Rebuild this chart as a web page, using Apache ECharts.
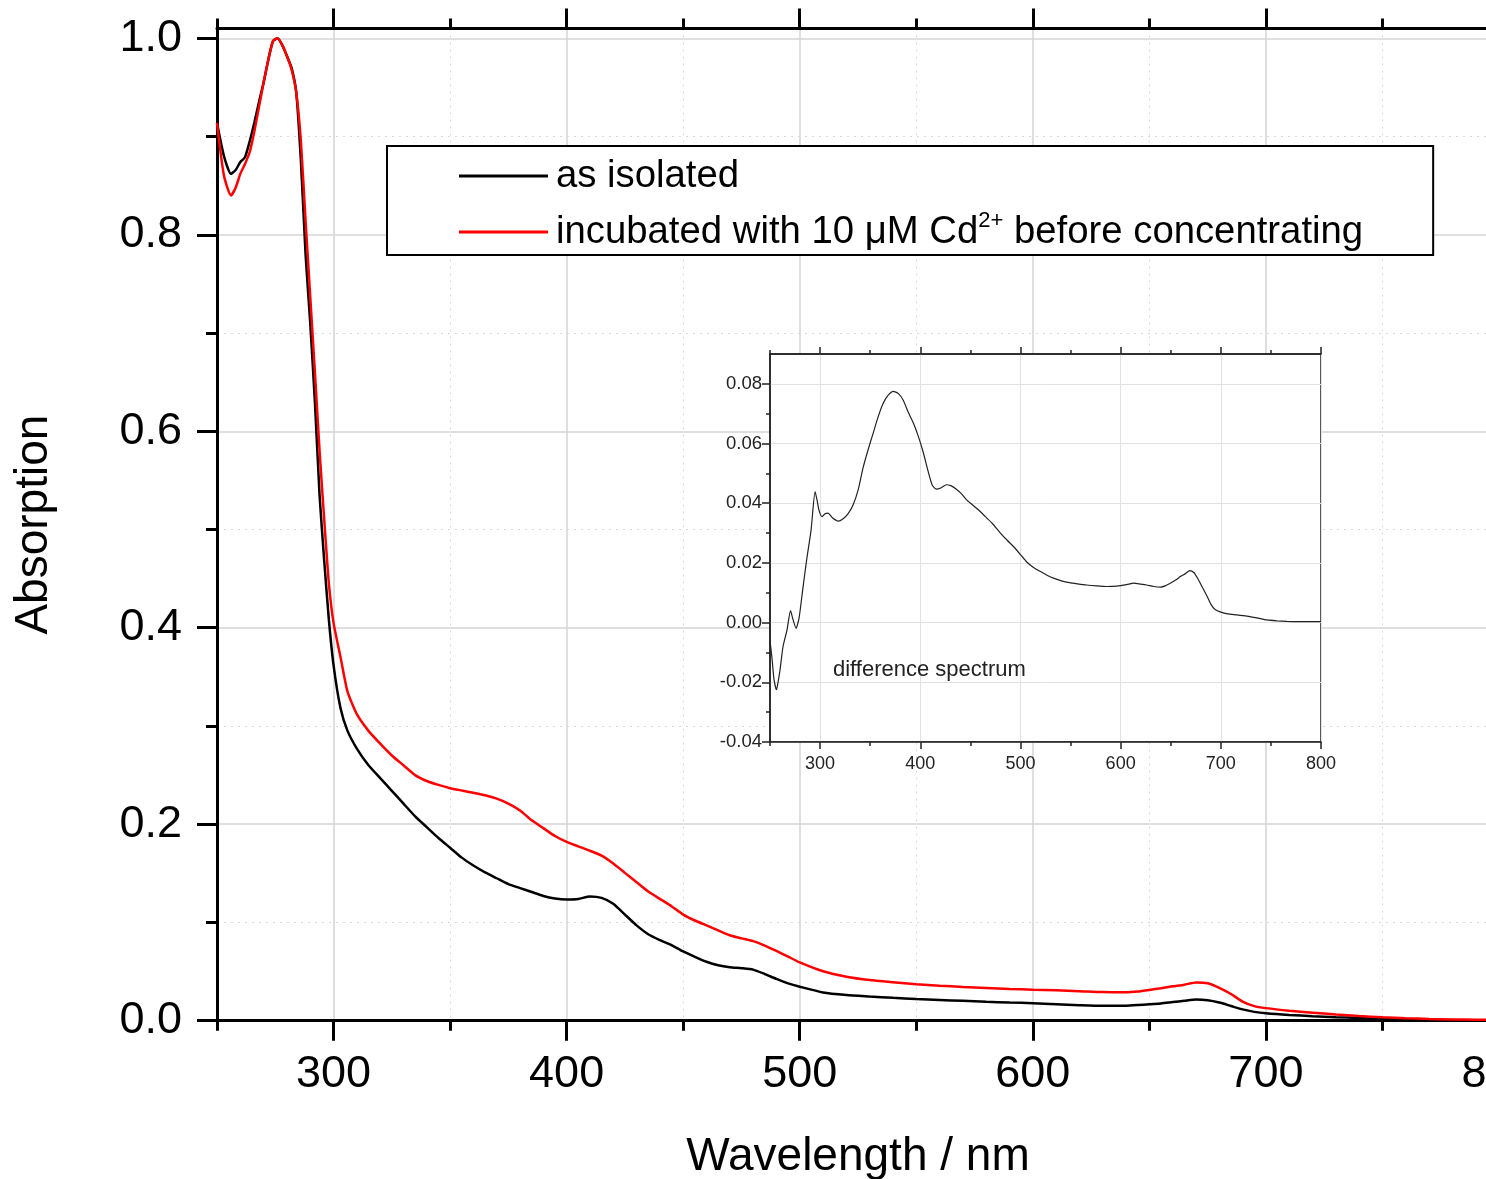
<!DOCTYPE html>
<html>
<head>
<meta charset="utf-8">
<script src="https://cdn.jsdelivr.net/npm/echarts@6/dist/echarts.min.js"></script>
<style>html,body{margin:0;padding:0;background:#fff;}#chart{width:1486px;height:1179px;}</style>
</head>
<body>
<div id="chart"></div>
<script>
// ---------------- data ----------------
const wavelength = [250,253,256,258,260,262,264,266,268,270,272,274,276,278,280,282,284,286,288,290,292,294,296,298,300,303,306,310,315,320,325,330,335,340,345,350,355,360,365,370,375,380,385,390,395,400,405,410,415,420,425,430,435,440,445,450,455,460,465,470,475,480,485,490,495,500,510,520,530,540,550,560,570,580,590,600,610,620,630,640,645,650,655,660,665,670,675,680,685,690,695,700,710,720,730,740,750,760,770,780,790,800];
const asIsolated = [0.914,0.88,0.862,0.866,0.874,0.879,0.895,0.914,0.935,0.955,0.978,0.997,1.0,0.993,0.982,0.97,0.945,0.875,0.78,0.71,0.63,0.535,0.468,0.408,0.362,0.318,0.295,0.277,0.26,0.247,0.234,0.221,0.208,0.197,0.186,0.176,0.166,0.158,0.151,0.145,0.139,0.135,0.131,0.127,0.1245,0.1235,0.124,0.1265,0.125,0.119,0.108,0.097,0.088,0.082,0.077,0.0705,0.065,0.06,0.0565,0.0545,0.0535,0.052,0.0475,0.0425,0.038,0.0346,0.0288,0.0262,0.0247,0.0233,0.022,0.0211,0.0202,0.0193,0.0185,0.0178,0.0168,0.0158,0.0151,0.0152,0.0159,0.0168,0.0176,0.019,0.0203,0.0215,0.0208,0.0185,0.015,0.0115,0.009,0.0075,0.0058,0.0046,0.0036,0.0027,0.0018,0.0012,0.0008,0.0005,0.0003,0.0002];
const cdIncubated = [0.914,0.86,0.84,0.848,0.862,0.872,0.884,0.905,0.93,0.955,0.978,0.997,1.0,0.993,0.982,0.968,0.945,0.895,0.814,0.737,0.66,0.58,0.51,0.445,0.405,0.37,0.335,0.312,0.295,0.282,0.27,0.26,0.25,0.244,0.24,0.2367,0.2343,0.232,0.2295,0.226,0.221,0.214,0.204,0.196,0.188,0.182,0.1775,0.173,0.168,0.16,0.1505,0.141,0.1315,0.124,0.1165,0.108,0.102,0.097,0.092,0.087,0.0838,0.081,0.0765,0.071,0.0652,0.0593,0.0503,0.0448,0.0414,0.0392,0.0372,0.0357,0.0344,0.0333,0.0323,0.0316,0.031,0.0301,0.0291,0.0289,0.0297,0.0313,0.0331,0.035,0.0366,0.039,0.0382,0.0335,0.0272,0.0195,0.0148,0.0128,0.0102,0.0082,0.0063,0.0048,0.0035,0.0026,0.0018,0.0013,0.001,0.0008];
const diffWavelength = [250,252,254,256.5,258,260,263,267,270.5,273,276,279,283,287,291,295,297,299,302,305,308,312,318,323,328,333,338,343,348,353,358,363,368,373,378,383,388,393,398,403,408,412,416,421,426,431,436,441,446,452,458,465,472,480,487,493,500,506,513,520,527,533,541,549,557,566,576,586,596,606,613,620,626,633,640,645,650,655,660,665,669,673,677,681,686,690,694,700,707,716,726,736,746,756,766,776,788,800];
const diffValues = [-0.006,-0.012,-0.019,-0.0225,-0.02,-0.0159,-0.008,-0.0024,0.004,0.001,-0.0019,0.0015,0.012,0.022,0.031,0.0439,0.041,0.0375,0.0355,0.0365,0.0367,0.0352,0.034,0.0348,0.0365,0.0395,0.0445,0.052,0.058,0.0635,0.069,0.0735,0.0762,0.0775,0.0768,0.0745,0.0705,0.067,0.0625,0.057,0.0505,0.046,0.0447,0.0452,0.0462,0.0458,0.0447,0.0432,0.0412,0.0395,0.0378,0.0355,0.0332,0.03,0.0275,0.0255,0.0228,0.0204,0.0185,0.0171,0.0158,0.0149,0.014,0.0134,0.013,0.0126,0.0123,0.0121,0.0122,0.0127,0.0132,0.0129,0.0126,0.0121,0.0119,0.0124,0.0133,0.0143,0.0155,0.0165,0.0174,0.0168,0.0148,0.0122,0.009,0.0062,0.0045,0.0035,0.0029,0.0026,0.0022,0.0016,0.0009,0.0006,0.0004,0.0003,0.0003,0.0003];

const seriesNames = ['as isolated', 'incubated with 10 μM Cd2+ before concentrating'];
const mainXMajor = [300,400,500,600,700,800];
const mainXMinor = [250,350,450,550,650,750];
const mainYMajor = [0,0.2,0.4,0.6,0.8,1.0];
const mainYMinor = [0.1,0.3,0.5,0.7,0.9];
const insetXMajor = [300,400,500,600,700,800];
const insetXMinor = [250,350,450,550,650,750];
const insetYMajor = [-0.04,-0.02,0,0.02,0.04,0.06,0.08];
const insetYMinor = [-0.03,-0.01,0.01,0.03,0.05,0.07];

// ---------------- chart ----------------
const FONT = '"Liberation Sans", Arial, Helvetica, sans-serif';

function valAxis(o) {
  const ax = {
    type: 'value', gridIndex: o.grid, position: o.pos,
    min: o.min, max: o.max, interval: o.interval, z: o.z || 0,
    axisLine: { show: o.line !== false, onZero: false, lineStyle: { color: o.color, width: o.lineW } },
    axisTick: { show: true, inside: false, customValues: o.ticks, length: o.tickLen,
                lineStyle: { color: o.color, width: o.tickW } },
    axisLabel: o.labels ? { show: true, customValues: o.labels, formatter: o.fmt, fontSize: o.fs,
                color: o.color, fontFamily: FONT, margin: o.margin, hideOverlap: false } : { show: false },
    splitLine: o.split ? { show: true, lineStyle: o.split } : { show: false },
    minorTick: { show: false }, minorSplitLine: { show: false }
  };
  if (o.name) {
    ax.name = o.name; ax.nameLocation = 'middle'; ax.nameGap = o.nameGap;
    if (o.nameRotate != null) ax.nameRotate = o.nameRotate;
    ax.nameTextStyle = { fontSize: o.nameSize, color: '#000', fontFamily: FONT };
  }
  return ax;
}

const MX = { min: 250, max: 800, interval: 50 };
const MY = { min: 0, max: 1.01, interval: 0.1 };
const IX = { min: 250, max: 800, interval: 50 };
const IY = { min: -0.04, max: 0.09, interval: 0.01 };
const mainMajorGrid = { color: '#d4d4d4', width: 1.5, type: 'solid' };
const mainMinorGrid = { color: '#d8d8d8', width: 1, type: [2, 5] };
const insetMajorGrid = { color: '#e2e2e2', width: 1, type: 'solid' };

const xAxes = [
  valAxis(Object.assign({ grid: 0, pos: 'bottom', color: '#000', lineW: 3, ticks: mainXMajor, tickLen: 20, tickW: 3,
    labels: mainXMajor, fmt: v => String(Math.round(v)), fs: 45, margin: 31, split: mainMajorGrid,
    name: 'Wavelength / nm', nameGap: 114, nameSize: 46 }, MX)),
  valAxis(Object.assign({ grid: 0, pos: 'bottom', color: '#000', line: false, lineW: 3, ticks: mainXMinor, tickLen: 10, tickW: 3,
    split: mainMinorGrid }, MX)),
  valAxis(Object.assign({ grid: 0, pos: 'top', color: '#000', lineW: 3, ticks: mainXMajor, tickLen: 20, tickW: 3 }, MX)),
  valAxis(Object.assign({ grid: 0, pos: 'top', color: '#000', line: false, lineW: 3, ticks: mainXMinor, tickLen: 10, tickW: 3 }, MX)),
  valAxis(Object.assign({ grid: 1, pos: 'bottom', color: '#222', lineW: 1.5, ticks: insetXMajor, tickLen: 7, tickW: 1.5, z: 6,
    labels: insetXMajor, fmt: v => String(Math.round(v)), fs: 18, margin: 13, split: insetMajorGrid }, IX)),
  valAxis(Object.assign({ grid: 1, pos: 'bottom', color: '#222', line: false, lineW: 1.5, ticks: insetXMinor, tickLen: 4, tickW: 1.5, z: 6 }, IX)),
  valAxis(Object.assign({ grid: 1, pos: 'top', color: '#222', lineW: 1.5, ticks: insetXMajor, tickLen: 7, tickW: 1.5, z: 6 }, IX)),
  valAxis(Object.assign({ grid: 1, pos: 'top', color: '#222', line: false, lineW: 1.5, ticks: insetXMinor, tickLen: 4, tickW: 1.5, z: 6 }, IX))
];
const yAxes = [
  valAxis(Object.assign({ grid: 0, pos: 'left', color: '#000', lineW: 3, ticks: mainYMajor, tickLen: 20, tickW: 3,
    labels: mainYMajor, fmt: v => v.toFixed(1), fs: 45, margin: 35, split: mainMajorGrid,
    name: 'Absorption', nameGap: 160, nameRotate: 90, nameSize: 46 }, MY)),
  valAxis(Object.assign({ grid: 0, pos: 'left', color: '#000', line: false, lineW: 3, ticks: mainYMinor, tickLen: 11, tickW: 3,
    split: mainMinorGrid }, MY)),
  valAxis(Object.assign({ grid: 1, pos: 'left', color: '#222', lineW: 1.5, ticks: insetYMajor, tickLen: 8, tickW: 1.5, z: 6,
    labels: insetYMajor, fmt: v => v.toFixed(2), fs: 18.5, margin: 8, split: insetMajorGrid }, IY)),
  valAxis(Object.assign({ grid: 1, pos: 'left', color: '#222', line: false, lineW: 1.5, ticks: insetYMinor, tickLen: 4, tickW: 1.5, z: 6 }, IY))
];

function pairs(xs, ys) { return xs.map((x, i) => [x, ys[i]]); }

const chart = echarts.init(document.getElementById('chart'), null, { renderer: 'canvas' });
chart.setOption({
  animation: false,
  backgroundColor: '#fff',
  textStyle: { fontFamily: FONT },
  grid: [
    { left: 217, top: 28.5, width: 1282, height: 992.2, containLabel: false, outerBoundsMode: 'none' },
    { left: 770, top: 354, width: 551, height: 388, show: true, backgroundColor: '#fff',
      borderColor: '#222', borderWidth: 1.5, z: 5, containLabel: false, outerBoundsMode: 'none' }
  ],
  title: {
    text: 'difference spectrum', left: 833, top: 659, padding: 0, z: 8,
    textStyle: { fontSize: 22, fontWeight: 'normal', color: '#222', fontFamily: FONT }
  },
  legend: {
    orient: 'vertical', left: 387, top: 146, z: 8,
    padding: [8, 70, 1, 72], itemGap: 12, itemWidth: 89, itemHeight: 3, icon: 'rect',
    borderColor: '#000', borderWidth: 2, backgroundColor: '#fff', selectedMode: false,
    data: seriesNames,
    formatter: function (name) {
      if (name === seriesNames[1]) return '{t|incubated with 10 μM Cd}{s|2+}{t| before concentrating}';
      return '{t|' + name + '}';
    },
    textStyle: {
      fontSize: 38.3, lineHeight: 44, color: '#000', fontFamily: FONT, padding: [0, 0, 0, 3],
      rich: {
        t: { fontSize: 38.3, lineHeight: 44, color: '#000', fontFamily: FONT },
        s: { fontSize: 22, lineHeight: 30, color: '#000', fontFamily: FONT, verticalAlign: 'top' }
      }
    }
  },
  xAxis: xAxes,
  yAxis: yAxes,
  series: [
    { name: seriesNames[0], type: 'line', xAxisIndex: 0, yAxisIndex: 0, data: pairs(wavelength, asIsolated),
      showSymbol: false, symbol: 'none', smooth: 0.2, color: '#000', lineStyle: { color: '#000', width: 2.5 }, z: 2 },
    { name: seriesNames[1], type: 'line', xAxisIndex: 0, yAxisIndex: 0, data: pairs(wavelength, cdIncubated),
      showSymbol: false, symbol: 'none', smooth: 0.2, color: '#ff0000', lineStyle: { color: '#ff0000', width: 2.5 }, z: 3 },
    { name: 'difference spectrum', type: 'line', xAxisIndex: 4, yAxisIndex: 2, data: pairs(diffWavelength, diffValues),
      showSymbol: false, symbol: 'none', smooth: 0.2, color: '#222', lineStyle: { color: '#222', width: 1.2 }, z: 7 }
  ]
});
</script>
</body>
</html>
